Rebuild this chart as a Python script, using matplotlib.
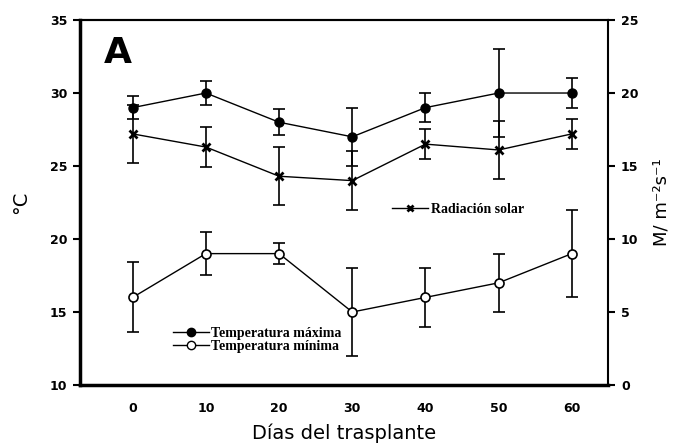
import matplotlib
matplotlib.use('Agg')
import matplotlib.pyplot as plt
from matplotlib.lines import Line2D

dias = [0, 10, 20, 30, 40, 50, 60]

t_max = [29, 30, 28, 27, 29, 30, 30]
t_max_err = [0.8, 0.8, 0.9, 2.0, 1.0, 3.0, 1.0]

t_min = [16, 19, 19, 15, 16, 17, 19]
t_min_err = [2.4, 1.45, 0.7, 3.0, 2.0, 2.0, 3.0]

radiacion = [17.2, 16.3, 14.3, 14.0, 16.5, 16.1, 17.2]
radiacion_err = [2.0, 1.4, 2.0, 2.0, 1.05, 2.0, 1.0]

legend_font = dict(family='Liberation Serif', weight='bold', size=10)

figure = plt.figure(figsize=(6.74, 4.45), dpi=100)
axes = figure.add_axes([0.1187, 0.1348, 0.784, 0.8202])
axes2 = axes.twinx()

axes.errorbar(dias, t_max, yerr=t_max_err, color='black', lw=1.0,
              marker='o', ms=6.5, mfc='black', mec='black',
              capsize=4, elinewidth=1.2, capthick=1.2, zorder=3)
axes.errorbar(dias, t_min, yerr=t_min_err, color='black', lw=1.0,
              marker='o', ms=6.5, mfc='white', mec='black', mew=1.2,
              capsize=4, elinewidth=1.2, capthick=1.2, zorder=3)
axes2.errorbar(dias, radiacion, yerr=radiacion_err, color='black', lw=1.0,
               capsize=4, elinewidth=1.2, capthick=1.2, zorder=3)
axes2.plot(dias, radiacion, ls='none', color='black', marker='x', ms=6,
           mew=2.0, zorder=4)

axes.set_xlim(-7.2, 65)
axes.set_ylim(10, 35)
axes2.set_ylim(0, 25)

axes.set_xticks(dias)
axes.set_yticks([10, 15, 20, 25, 30, 35])
axes2.set_yticks([0, 5, 10, 15, 20, 25])
for lab in axes.get_xticklabels() + axes.get_yticklabels() + axes2.get_yticklabels():
    lab.set_fontweight('heavy')
    lab.set_fontsize(9)

axes.tick_params(axis='y', direction='out', length=5, width=1.5, pad=4)
axes.tick_params(axis='x', length=0, pad=12)
axes2.tick_params(axis='y', direction='out', length=5, width=1.5, pad=4)

axes.spines['left'].set_linewidth(2.5)
axes.spines['bottom'].set_linewidth(2.5)
axes.spines['top'].set_linewidth(1.5)
axes.spines['right'].set_visible(False)
axes2.spines['left'].set_visible(False)
axes2.spines['bottom'].set_visible(False)
axes2.spines['top'].set_linewidth(1.5)
axes2.spines['right'].set_linewidth(1.5)

axes.set_xlabel('Días del trasplante', fontsize=14, labelpad=6)
axes.set_ylabel('°C', fontsize=14, labelpad=14)
axes2.set_ylabel('M/ m⁻²s⁻¹', fontsize=13, labelpad=10)

axes.text(0.045, 0.955, 'A', transform=axes.transAxes, fontsize=26,
          fontweight='bold', va='top', ha='left')

handles = [
    Line2D([], [], color='black', lw=1.0, marker='o', ms=6, mfc='black'),
    Line2D([], [], color='black', lw=1.0, marker='o', ms=6, mfc='white'),
]
axes.legend(handles, ['Temperatura máxima', 'Temperatura mínima'],
            loc='upper left', bbox_to_anchor=(0.176, 0.158),
            frameon=False, prop=legend_font, handlelength=2.6,
            handletextpad=0.1, labelspacing=0.0, borderpad=0,
            borderaxespad=0)
rad_handle = [Line2D([], [], color='black', lw=1.0, marker='x', ms=5, mew=2.0)]
axes2.legend(rad_handle, ['Radiación solar'], loc='upper left',
             bbox_to_anchor=(0.591, 0.50), frameon=False, prop=legend_font,
             handlelength=2.6, handletextpad=0.2, borderpad=0, borderaxespad=0)

figure.savefig('out.png', dpi=100)
